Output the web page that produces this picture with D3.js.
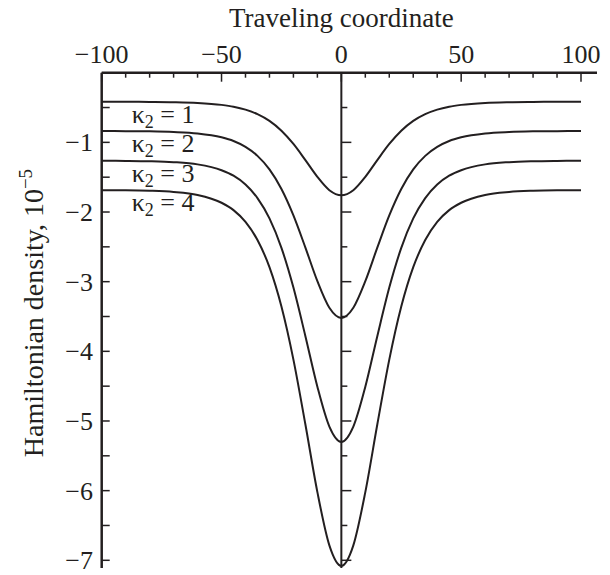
<!DOCTYPE html>
<html>
<head>
<meta charset="utf-8">
<script src="https://cdn.jsdelivr.net/npm/d3@7"></script>
<style>
  html, body { margin: 0; padding: 0; background: #fff; }
  svg { display: block; }
  text { font-family: "Liberation Serif", "Times New Roman", serif; fill: #231f20; }
</style>
</head>
<body>
<svg id="chart" width="610" height="575"></svg>
<script>
// ---- data ----
const xValues = [-100, -90, -80, -70, -60, -50, -45, -40, -35, -30, -25, -20, -15, -10, -5, 0,
                 5, 10, 15, 20, 25, 30, 35, 40, 45, 50, 60, 70, 80, 90, 100];
const kappa1 = [-0.416, -0.417, -0.419, -0.423, -0.434, -0.462, -0.488, -0.530, -0.595, -0.692, -0.833, -1.023, -1.255, -1.496, -1.687, -1.760,
                -1.687, -1.496, -1.255, -1.023, -0.833, -0.692, -0.595, -0.530, -0.488, -0.462, -0.434, -0.423, -0.419, -0.417, -0.416];
const kappa2 = [-0.838, -0.839, -0.842, -0.851, -0.872, -0.928, -0.981, -1.065, -1.194, -1.388, -1.669, -2.048, -2.511, -2.993, -3.374, -3.520,
                -3.374, -2.993, -2.511, -2.048, -1.669, -1.388, -1.194, -1.065, -0.981, -0.928, -0.872, -0.851, -0.842, -0.839, -0.838];
const kappa3 = [-1.264, -1.266, -1.271, -1.284, -1.316, -1.400, -1.479, -1.605, -1.800, -2.092, -2.515, -3.085, -3.782, -4.508, -5.080, -5.300,
                -5.080, -4.508, -3.782, -3.085, -2.515, -2.092, -1.800, -1.605, -1.479, -1.400, -1.316, -1.284, -1.271, -1.266, -1.264];
const kappa4 = [-1.686, -1.688, -1.695, -1.712, -1.755, -1.867, -1.973, -2.142, -2.402, -2.792, -3.357, -4.119, -5.051, -6.021, -6.785, -7.080,
                -6.785, -6.021, -5.051, -4.119, -3.357, -2.792, -2.402, -2.142, -1.973, -1.867, -1.755, -1.712, -1.695, -1.688, -1.686];
const seriesNames = ["1", "2", "3", "4"];
const xTickValues = [-100, -50, 0, 50, 100];
const xTickLabels = ["\u2212100", "\u221250", "0", "50", "100"];
const yTickValues = [-1, -2, -3, -4, -5, -6, -7];
const yTickLabels = ["\u22121", "\u22122", "\u22123", "\u22124", "\u22125", "\u22126", "\u22127"];
const xTitle = "Traveling coordinate";
const yTitle = "Hamiltonian density, 10";
const yTitleExp = "\u22125";

// ---- drawing ----
const svg = d3.select("#chart");
const ink = "#231f20";
const x = d3.scaleLinear().domain([-100, 100]).range([101.7, 581]);
const y = d3.scaleLinear().domain([0, -7]).range([72.7, 560.3]);
const yBottom = 568;
const xRight = 597;

const series = [kappa1, kappa2, kappa3, kappa4];

// curves
const line = d3.line()
  .x((d, i) => x(xValues[i]))
  .y(d => y(d))
  .curve(d3.curveMonotoneX);

svg.append("g").selectAll("path").data(series).join("path")
  .attr("d", d => line(d))
  .attr("fill", "none")
  .attr("stroke", ink)
  .attr("stroke-width", 2);

// top axis
const minorX = d3.range(-100, 101, 10);
const gTop = svg.append("g");
gTop.append("line").attr("x1", x(-100)).attr("x2", xRight)
  .attr("y1", y(0)).attr("y2", y(0)).attr("stroke", ink).attr("stroke-width", 2.5);
gTop.selectAll("line.tick").data(minorX).join("line").attr("class", "tick")
  .attr("x1", d => x(d)).attr("x2", d => x(d))
  .attr("y1", y(0)).attr("y2", d => y(0) + (d % 50 === 0 ? 9 : 5))
  .attr("stroke", ink).attr("stroke-width", 1.5);
gTop.selectAll("text").data(xTickValues).join("text")
  .attr("x", d => x(d)).attr("y", 63)
  .attr("text-anchor", "middle")
  .attr("font-size", 26)
  .text((d, i) => xTickLabels[i]);
svg.append("text").attr("x", x(0)).attr("y", 27)
  .attr("text-anchor", "middle").attr("font-size", 27).text(xTitle);

// left axis
const minorY = d3.range(-0.5, -7.01, -0.5);
const gLeft = svg.append("g");
gLeft.append("line").attr("x1", x(-100)).attr("x2", x(-100))
  .attr("y1", y(0)).attr("y2", yBottom).attr("stroke", ink).attr("stroke-width", 2.5);
gLeft.selectAll("line.tick").data(minorY).join("line").attr("class", "tick")
  .attr("x1", x(-100)).attr("x2", x(-100) + 8)
  .attr("y1", d => y(d)).attr("y2", d => y(d))
  .attr("stroke", ink).attr("stroke-width", 1.5);
gLeft.selectAll("text").data(yTickValues).join("text")
  .attr("x", 93).attr("y", d => y(d))
  .attr("dy", "0.35em")
  .attr("text-anchor", "end")
  .attr("font-size", 26)
  .text((d, i) => yTickLabels[i]);

// centre axis at x = 0
const gMid = svg.append("g");
gMid.append("line").attr("x1", x(0)).attr("x2", x(0))
  .attr("y1", y(0)).attr("y2", yBottom).attr("stroke", ink).attr("stroke-width", 2);
gMid.selectAll("line.tick").data(minorY).join("line").attr("class", "tick")
  .attr("x1", x(0)).attr("x2", d => x(0) + (Number.isInteger(d) ? 10 : 6))
  .attr("y1", d => y(d)).attr("y2", d => y(d))
  .attr("stroke", ink).attr("stroke-width", 1.5);

// y title
const yt = svg.append("text")
  .attr("transform", "translate(43,313) rotate(-90)")
  .attr("text-anchor", "middle")
  .attr("font-size", 28);
yt.append("tspan").text(yTitle);
yt.append("tspan").attr("dy", -11).attr("font-size", 19).text(yTitleExp);

// series labels
const gLab = svg.append("g");
series.forEach((s, i) => {
  const t = gLab.append("text")
    .attr("x", x(-87.5)).attr("y", y(s[0]) + 21)
    .attr("font-size", 26);
  t.append("tspan").text("\u03ba");
  t.append("tspan").attr("font-size", 18).attr("dy", 5).text("2");
  t.append("tspan").attr("dy", -5).text(" = " + seriesNames[i]);
});
</script>
</body>
</html>
